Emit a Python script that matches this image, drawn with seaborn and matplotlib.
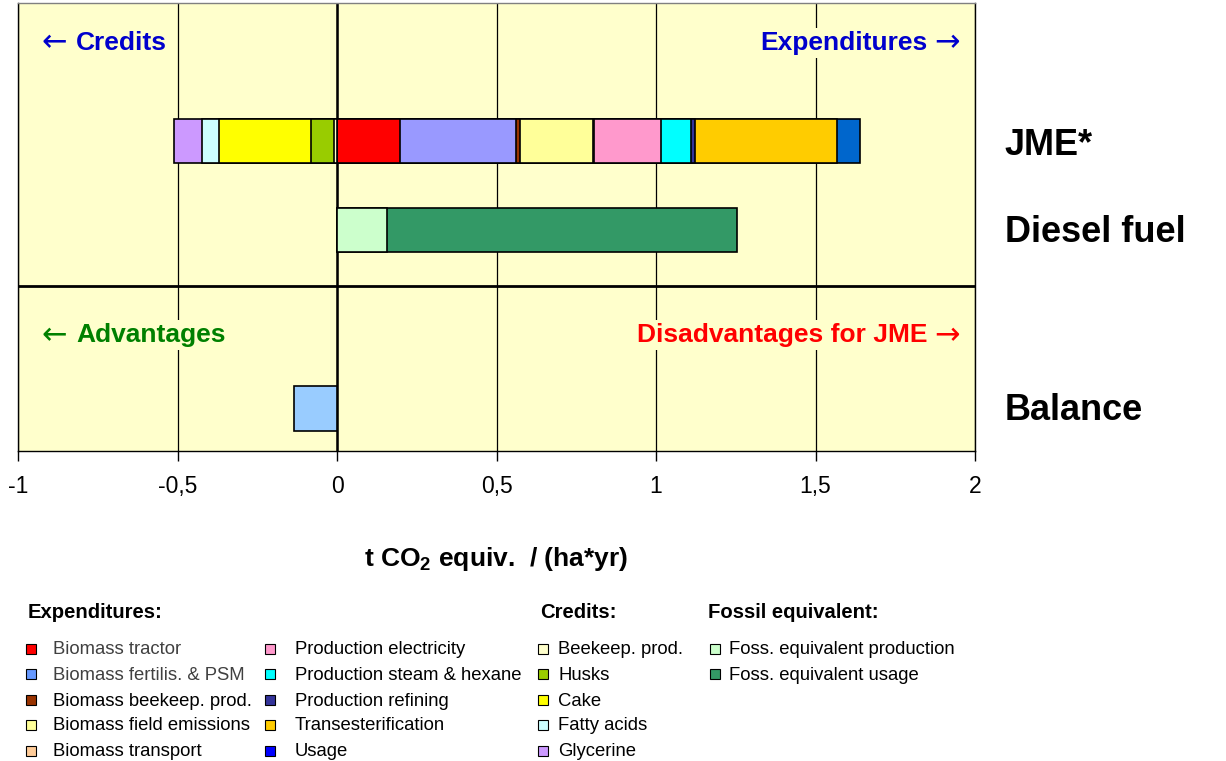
import numpy as np
import matplotlib
matplotlib.use('Agg')
import matplotlib.pyplot as plt
from matplotlib.patches import Rectangle
import seaborn as sns

sns.set_style('white')
plt.rcParams['font.family'] = ['Liberation Sans', 'DejaVu Sans']
plt.rcParams['text.color'] = 'black'
plt.rcParams['xtick.color'] = 'black'
plt.rcParams['axes.labelcolor'] = 'black'
plt.rcParams['mathtext.fontset'] = 'custom'
plt.rcParams['mathtext.rm'] = 'Liberation Sans'
plt.rcParams['mathtext.bf'] = 'Liberation Sans:bold'

# ---- data (t CO2 equiv. / (ha*yr)) ----
order = ['JME*', 'Diesel fuel', 'gap', 'Balance']

exp_labels = ['Biomass tractor', 'Biomass fertilis. & PSM', 'Biomass beekeep. prod.',
              'Biomass field emissions', 'Biomass transport', 'Production electricity',
              'Production steam & hexane', 'Production refining', 'Transesterification', 'Usage']
exp_values = [0.197, 0.363, 0.013, 0.229, 0.003, 0.212, 0.094, 0.010, 0.447, 0.071]

credit_labels = ['Beekeep. prod.', 'Husks', 'Cake', 'Fatty acids', 'Glycerine']
credit_values = [-0.008, -0.073, -0.290, -0.052, -0.088]

fossil_labels = ['Foss. equivalent production', 'Foss. equivalent usage']
fossil_values = [0.158, 1.097]

balance_value = -0.134

xticks = [-1, -0.5, 0, 0.5, 1, 1.5, 2]
xtick_labels = ['-1', '-0,5', '0', '0,5', '1', '1,5', '2']

# ---- colours ----
exp_colors = ['#FF0000', '#6699FF', '#993300', '#FFFF99', '#FFCC99',
              '#FF99CC', '#00FFFF', '#333399', '#FFCC00', '#0000FF']
exp_bar_colors = ['#FF0000', '#9999FF', '#993300', '#FFFF99', '#FFCC99',
                  '#FF99CC', '#00FFFF', '#333399', '#FFCC00', '#0066CC']
credit_colors = ['#FFFFCC', '#99CC00', '#FFFF00', '#CCFFFF', '#CC99FF']
fossil_colors = ['#CCFFCC', '#339966']
balance_color = '#99CCFF'
bg = '#FFFFCC'

W, H = 1226, 761
fig = plt.figure(figsize=(W / 100, H / 100), dpi=100)
ax = fig.add_axes([18 / W, 1 - 451 / H, (975 - 18) / W, (451 - 3) / H])
ax.set_facecolor(bg)


def stack(cat, values, colors):
    # stacked bar: draw cumulative bars from outermost to innermost
    cum = np.cumsum(values)
    for v, c in reversed(list(zip(cum, colors))):
        sns.barplot(x=[v], y=[cat], order=order, orient='h', color=c, saturation=1,
                    edgecolor='black', linewidth=1.2, width=0.5, errorbar=None, ax=ax)


stack('JME*', exp_values, exp_bar_colors)
stack('JME*', credit_values, credit_colors)
stack('Diesel fuel', fossil_values, fossil_colors)
stack('Balance', [balance_value], [balance_color])

for p in ax.patches:
    p.set_zorder(3)

ax.set_xlim(-1, 2)
ax.set_ylim(3.48, -1.55)
ax.set_yticks([])
ax.set_ylabel('')
ax.set_xticks(xticks)
ax.set_xticklabels(xtick_labels)
ax.tick_params(axis='x', bottom=True, length=7, width=1, color='black',
               labelsize=16.5, pad=10, labelcolor='black')
ax.xaxis.grid(True, color='black', linewidth=0.9)
ax.set_axisbelow(True)
ax.axvline(0, color='black', linewidth=1.8, zorder=2)
ax.axhline(1.63, color='black', linewidth=2, zorder=2)
for s in ax.spines.values():
    s.set_color('black')
    s.set_linewidth(1)
ax.spines['top'].set_color('#808080')

ax.set_xlabel('t CO$_\\mathbf{2}$ equiv.  / (ha*yr)', fontsize=19, fontweight='bold',
              labelpad=34)

box = dict(facecolor=bg, edgecolor='none', pad=2)
arrow_font = dict(family=['DejaVu Sans'], fontsize=22, va='center', bbox=box, zorder=4)
word_font = dict(fontsize=19, fontweight='bold', va='center', bbox=box, zorder=4)


def arrow_label(y, left_txt, left_col, right_txt, right_col):
    # left: arrow then word, right: word then arrow
    ax.text(-0.925, y, '\u2190', color=left_col, ha='left', **arrow_font)
    ax.text(-0.818, y, left_txt, color=left_col, ha='left', **word_font)
    ax.text(1.953, y, '\u2192', color=right_col, ha='right', **arrow_font)
    ax.text(1.85, y, right_txt, color=right_col, ha='right', **word_font)


arrow_label(-1.10, 'Credits', '#0000CC', 'Expenditures', '#0000CC')
arrow_label(2.18, 'Advantages', '#008000', 'Disadvantages for JME', '#FF0000')

for cat, yv in [('JME*', 0.05), ('Diesel fuel', 1.03), ('Balance', 3.03)]:
    ax.text(2.094, yv, cat, fontsize=26, fontweight='bold', ha='left', va='center',
            clip_on=False)


# ---- legend (manual, figure coordinates) ----
def fx(x):
    return x / W


def fy(y):
    return 1 - y / H


rows = [650, 675, 701, 726, 752]
fig.text(fx(28), fy(612), 'Expenditures:', fontsize=14.6, fontweight='bold', va='center')
fig.text(fx(540), fy(612), 'Credits:', fontsize=14.6, fontweight='bold', va='center')
fig.text(fx(708), fy(612), 'Fossil equivalent:', fontsize=14.6, fontweight='bold', va='center')


def legend_item(mx, tx, y, label, color, tcolor='black'):
    s = 10
    fig.add_artist(Rectangle((fx(mx - s / 2), fy(y - 1 + s / 2)), s / W, s / H,
                             facecolor=color, edgecolor='black', linewidth=0.8,
                             transform=fig.transFigure))
    fig.text(fx(tx), fy(y), label, fontsize=13.3, va='center', color=tcolor)


for i, (lab, col) in enumerate(zip(exp_labels, exp_colors)):
    tcol = '#404040' if i < 2 else 'black'
    if i < 5:
        legend_item(31, 53, rows[i], lab, col, tcol)
    else:
        legend_item(270, 295, rows[i - 5], lab, col)
for i, (lab, col) in enumerate(zip(credit_labels, credit_colors)):
    legend_item(543, 558, rows[i], lab, col)
for i, (lab, col) in enumerate(zip(fossil_labels, fossil_colors)):
    legend_item(715, 729, rows[i], lab, col)

fig.savefig('out.png', dpi=100)
